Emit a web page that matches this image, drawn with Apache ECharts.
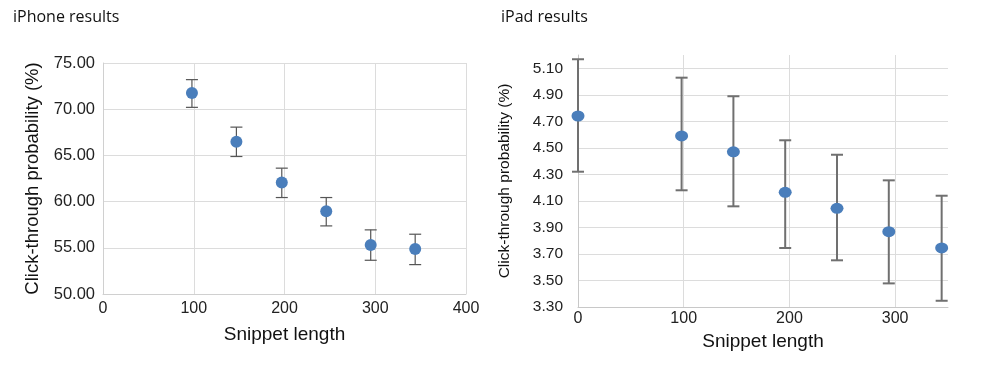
<!DOCTYPE html>
<html>
<head>
<meta charset="utf-8">
<script src="https://cdn.jsdelivr.net/npm/echarts@6/dist/echarts.min.js"></script>
<style>html,body{margin:0;padding:0;background:#fff}#c{width:1000px;height:373px}</style>
</head>
<body>
<div id="c"></div>
<script>
// iPhone results
const iphoneX = [98, 147, 197, 246, 295, 344];
const iphoneY = [71.75, 66.47, 62.06, 58.96, 55.31, 54.88];
const iphoneLow = [70.2, 64.88, 60.44, 57.37, 53.65, 53.18];
const iphoneHigh = [73.2, 68.06, 63.62, 60.44, 56.94, 56.47];
// iPad results
const ipadX = [0, 98, 147, 196, 245, 294, 344];
const ipadY = [4.74, 4.59, 4.47, 4.165, 4.044, 3.868, 3.745];
const ipadLow = [4.32, 4.18, 4.059, 3.745, 3.652, 3.478, 3.347];
const ipadHigh = [5.168, 5.029, 4.889, 4.557, 4.448, 4.255, 4.139];
const titles = ['iPhone results', 'iPad results'];
const axisTitleX = 'Snippet length';
const axisTitleY = 'Click-through probability (%)';

const chart = echarts.init(document.getElementById('c'));
const font = "'Liberation Sans', Arial, sans-serif";

function errBars(x, lo, hi) { return x.map((v, i) => [v, lo[i], hi[i]]); }
function makeRender(capHalf, color, width) {
  return function (params, api) {
    const x = api.value(0);
    const p1 = api.coord([x, api.value(1)]);
    const p2 = api.coord([x, api.value(2)]);
    const st = { stroke: color, lineWidth: width };
    return {
      type: 'group',
      children: [
        { type: 'line', shape: { x1: p1[0], y1: p1[1], x2: p2[0], y2: p2[1] }, style: st },
        { type: 'line', shape: { x1: p1[0] - capHalf, y1: p1[1], x2: p1[0] + capHalf, y2: p1[1] }, style: st },
        { type: 'line', shape: { x1: p2[0] - capHalf, y1: p2[1], x2: p2[0] + capHalf, y2: p2[1] }, style: st }
      ]
    };
  };
}

const ipadYLines = [];
for (let i = 0; i < 10; i++) ipadYLines.push('#dcdcdc');
ipadYLines.push('rgba(0,0,0,0)');

chart.setOption({
  animation: false,
  title: [
    { text: titles[0], left: 13, top: 9, padding: 0, textStyle: { fontFamily: "'Open Sans', sans-serif", fontSize: 16, fontWeight: 'normal', color: '#111' } },
    { text: titles[1], left: 501, top: 9, padding: 0, textStyle: { fontFamily: "'Open Sans', sans-serif", fontSize: 16, fontWeight: 'normal', color: '#111' } }
  ],
  grid: [
    { left: 103, right: 534, top: 63, bottom: 79 },
    { left: 578, right: 52, top: 55, bottom: 66 }
  ],
  xAxis: [
    {
      gridIndex: 0, type: 'value', min: 0, max: 400, interval: 100,
      name: axisTitleX, nameLocation: 'middle', nameGap: 31,
      nameTextStyle: { fontFamily: font, fontSize: 19, color: '#111' },
      axisLine: { show: true, lineStyle: { color: '#d0d0d0', width: 1 } },
      axisTick: { show: false },
      axisLabel: { fontFamily: font, fontSize: 16, color: '#222', margin: 7 },
      splitLine: { show: true, lineStyle: { color: '#dcdcdc', width: 1 } }
    },
    {
      gridIndex: 1, type: 'value', min: 0, max: 350, interval: 100,
      name: axisTitleX, nameLocation: 'middle', nameGap: 25,
      nameTextStyle: { fontFamily: font, fontSize: 19, color: '#111' },
      axisLine: { show: true, lineStyle: { color: '#c8c8c8', width: 1 } },
      axisTick: { show: false },
      axisLabel: { fontFamily: font, fontSize: 16, color: '#222', margin: 4, showMaxLabel: false },
      splitLine: { show: true, lineStyle: { color: ['#dcdcdc', '#dcdcdc', '#dcdcdc', '#dcdcdc', 'rgba(0,0,0,0)'], width: 1 } }
    }
  ],
  yAxis: [
    {
      gridIndex: 0, type: 'value', min: 50, max: 75, interval: 5,
      name: axisTitleY, nameLocation: 'middle', nameGap: 61, nameRotate: 90,
      nameTextStyle: { fontFamily: font, fontSize: 18.5, color: '#111' },
      axisLine: { show: true, lineStyle: { color: '#d0d0d0', width: 1 } },
      axisTick: { show: false },
      axisLabel: { fontFamily: font, fontSize: 16.5, color: '#222', margin: 8, formatter: v => v.toFixed(2) },
      splitLine: { show: true, lineStyle: { color: '#dcdcdc', width: 1 } }
    },
    {
      gridIndex: 1, type: 'value', min: 3.3, max: 5.2, interval: 0.2,
      name: axisTitleY, nameLocation: 'middle', nameGap: 65, nameRotate: 90,
      nameTextStyle: { fontFamily: font, fontSize: 15.5, color: '#111' },
      axisLine: { show: true, lineStyle: { color: '#c8c8c8', width: 1 } },
      axisTick: { show: false },
      axisLabel: { fontFamily: font, fontSize: 15.5, color: '#222', margin: 15, showMaxLabel: false, formatter: v => v.toFixed(2) },
      splitLine: { show: true, lineStyle: { color: ipadYLines, width: 1 } }
    }
  ],
  series: [
    {
      type: 'custom', xAxisIndex: 0, yAxisIndex: 0, clip: false,
      renderItem: makeRender(6, '#555', 1.2),
      data: errBars(iphoneX, iphoneLow, iphoneHigh), z: 2
    },
    {
      type: 'scatter', xAxisIndex: 0, yAxisIndex: 0,
      data: iphoneX.map((x, i) => [x, iphoneY[i]]),
      symbolSize: 12, itemStyle: { color: '#4a7ebb', opacity: 1 }, z: 3
    },
    {
      type: 'custom', xAxisIndex: 1, yAxisIndex: 1, clip: false,
      renderItem: makeRender(6, '#707070', 2),
      data: errBars(ipadX, ipadLow, ipadHigh), z: 2
    },
    {
      type: 'scatter', xAxisIndex: 1, yAxisIndex: 1,
      data: ipadX.map((x, i) => [x, ipadY[i]]),
      symbolSize: [13, 11], itemStyle: { color: '#4a7ebb', opacity: 1 }, z: 3
    }
  ]
});
</script>
</body>
</html>
